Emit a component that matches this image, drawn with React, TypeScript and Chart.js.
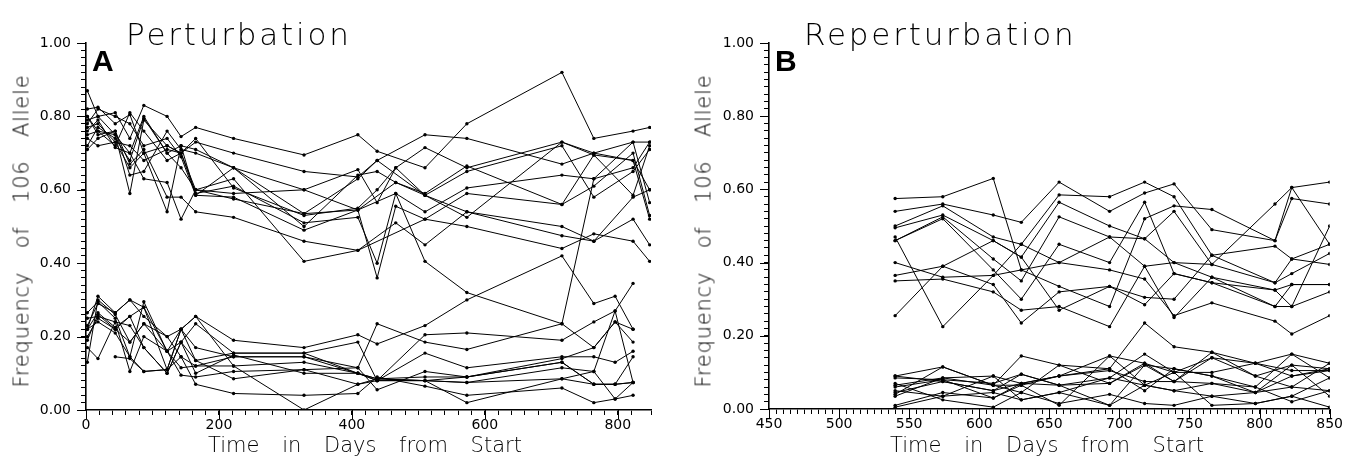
import React, { useEffect, useRef } from "react";
import { Chart, registerables } from "chart.js";
Chart.register(...registerables);

// ---------- Panel A (Perturbation) ----------
const timesA = [2, 18, 44, 66, 87, 122, 143, 165, 222, 328, 409, 438, 466, 510, 573, 716, 764, 796, 823, 848];

const aUp1 = [0.87, 0.80, 0.81, 0.74, 0.83, 0.80, 0.745, 0.77, 0.74, 0.695, 0.75, 0.705, null, 0.66, 0.78, 0.92, 0.74, null, 0.76, 0.77];
const aUp2 = [0.82, 0.825, 0.78, 0.805, 0.70, 0.72, 0.70, 0.73, 0.70, 0.65, 0.635, 0.68, null, 0.75, 0.74, 0.67, 0.70, null, 0.73, 0.73];
const aUp3 = [0.80, 0.76, 0.75, 0.59, 0.79, 0.72, 0.70, 0.60, 0.59, 0.60, 0.655, 0.565, 0.66, 0.715, 0.66, 0.73, 0.695, null, 0.68, 0.60];
const aUp4 = [0.78, 0.82, 0.80, 0.78, 0.72, 0.74, 0.69, 0.585, 0.66, 0.535, 0.545, null, 0.62, 0.585, 0.65, 0.72, 0.58, null, 0.65, 0.71];
const aUp5 = [0.75, 0.76, 0.72, 0.81, 0.76, 0.68, 0.70, 0.59, 0.61, 0.51, 0.525, 0.40, 0.59, 0.54, 0.605, 0.64, 0.63, null, 0.73, 0.565];
const aUp6 = [0.74, 0.72, 0.73, 0.66, 0.70, 0.54, 0.72, 0.585, 0.58, 0.49, 0.545, 0.36, 0.555, 0.52, 0.59, 0.56, 0.695, null, 0.585, 0.72];
const aUp7 = [0.71, 0.74, 0.76, 0.67, 0.71, 0.58, 0.58, 0.54, 0.525, 0.46, 0.435, null, 0.51, 0.45, 0.54, 0.50, 0.46, null, 0.52, 0.45];
const aUp8 = [0.79, 0.80, 0.75, 0.70, 0.63, 0.62, 0.52, 0.60, 0.63, 0.405, 0.435, null, null, 0.52, 0.50, 0.44, 0.48, null, 0.46, 0.405];
const aUp9 = [0.76, 0.79, 0.715, 0.70, 0.80, 0.70, 0.66, 0.60, 0.575, 0.535, 0.63, 0.68, null, 0.585, 0.525, 0.73, 0.70, null, 0.68, 0.52];
const aUp10 = [0.80, 0.75, 0.76, 0.64, 0.65, 0.76, 0.71, 0.70, 0.66, 0.60, 0.545, null, 0.59, 0.405, 0.32, 0.235, 0.63, null, 0.66, 0.73];
const aUp11 = [0.77, 0.78, 0.73, 0.72, 0.68, 0.71, 0.70, 0.74, 0.605, 0.53, 0.55, 0.60, 0.66, 0.585, 0.54, 0.475, 0.46, null, 0.58, 0.60];
const aUp12 = [0.72, 0.77, 0.74, 0.68, 0.795, 0.70, 0.72, 0.71, 0.66, 0.50, 0.64, 0.65, 0.62, 0.59, 0.665, 0.56, 0.61, null, 0.70, 0.53];

const aLow1 = [0.22, 0.31, 0.265, 0.30, 0.255, 0.20, 0.22, 0.255, 0.19, 0.17, 0.205, 0.18, null, 0.23, 0.30, 0.42, 0.29, 0.31, 0.22, null];
const aLow2 = [0.265, 0.295, 0.25, 0.145, 0.295, 0.16, 0.185, 0.235, 0.155, 0.155, 0.185, 0.08, null, 0.205, 0.21, 0.19, 0.24, 0.27, 0.345, null];
const aLow3 = [0.22, 0.265, 0.225, 0.255, 0.28, 0.11, 0.22, 0.17, 0.145, 0.145, 0.115, 0.235, null, 0.185, 0.165, 0.235, 0.17, 0.24, 0.185, null];
const aLow4 = [0.13, 0.30, 0.26, 0.185, 0.235, 0.20, 0.145, 0.12, 0.12, 0.13, 0.10, 0.08, null, 0.155, 0.115, 0.145, 0.145, 0.13, 0.16, null];
const aLow5 = [0.17, 0.14, 0.24, 0.105, 0.20, 0.16, 0.095, 0.09, 0.105, 0.11, 0.115, 0.055, null, 0.105, 0.09, 0.13, 0.07, 0.07, 0.145, null];
const aLow6 = [0.20, 0.25, 0.22, 0.255, 0.17, 0.10, 0.185, 0.135, 0.085, 0.11, 0.07, 0.08, null, 0.08, 0.075, 0.115, 0.105, 0.03, 0.075, null];
const aLow7 = [0.22, 0.24, 0.21, 0.145, 0.105, 0.11, 0.145, 0.07, 0.045, 0.04, 0.045, 0.09, null, 0.065, 0.04, 0.06, 0.02, 0.03, 0.04, null];
const aLow8 = [null, null, 0.145, 0.14, 0.105, 0.11, 0.22, 0.255, 0.12, 0.00, 0.07, 0.085, null, 0.08, 0.02, 0.085, 0.105, 0.27, 0.075, null];
const aLow9 = [0.23, 0.29, 0.265, 0.30, 0.28, 0.16, 0.115, 0.12, 0.145, 0.145, 0.10, 0.085, null, 0.09, 0.09, 0.13, 0.07, 0.07, 0.075, null];
const aLow10 = [0.19, 0.26, 0.22, 0.185, 0.235, 0.16, 0.22, 0.135, 0.155, 0.155, 0.10, 0.08, null, 0.08, 0.09, 0.14, 0.17, 0.24, 0.22, null];
const aLow11 = [0.25, 0.255, 0.24, 0.23, 0.17, 0.10, 0.185, 0.10, 0.15, 0.10, 0.10, 0.085, null, 0.08, 0.075, 0.085, 0.07, 0.07, 0.075, null];

// ---------- Panel B (Reperturbation) ----------
const timesB = [540, 574, 610, 630, 657, 693, 718, 739, 766, 797, 811, 823, 850];

const bUp1 = [0.575, 0.58, 0.63, 0.38, 0.335, 0.28, 0.52, 0.555, 0.545, null, 0.46, 0.605, 0.62];
const bUp2 = [0.54, 0.56, 0.53, 0.51, 0.62, 0.54, 0.59, 0.615, 0.49, null, 0.46, 0.575, 0.56];
const bUp3 = [0.50, 0.555, 0.47, 0.45, 0.585, 0.58, 0.62, 0.58, 0.42, null, 0.445, 0.41, 0.45];
const bUp4 = [0.495, 0.53, 0.46, 0.415, 0.565, 0.50, 0.465, 0.54, 0.395, null, 0.345, 0.37, 0.425];
const bUp5 = [0.46, 0.525, 0.41, 0.35, 0.525, 0.47, 0.39, 0.40, 0.36, null, 0.325, 0.34, 0.34];
const bUp6 = [0.46, 0.52, 0.38, 0.30, 0.45, 0.40, 0.565, 0.37, 0.345, null, 0.28, 0.28, 0.32];
const bUp7 = [0.40, 0.36, 0.365, 0.45, 0.40, 0.38, 0.355, 0.255, 0.29, null, 0.24, 0.205, 0.255];
const bUp8 = [0.365, 0.39, 0.34, 0.235, 0.32, 0.335, 0.305, 0.30, 0.42, null, 0.345, 0.41, 0.395];
const bUp9 = [0.35, 0.355, 0.32, 0.27, 0.28, 0.225, 0.39, 0.25, 0.36, null, 0.28, 0.34, 0.34];
const bUp10 = [0.255, 0.39, 0.46, 0.415, 0.27, 0.335, 0.285, 0.37, 0.345, null, 0.325, 0.28, 0.50];
const bUp11 = [0.47, 0.225, 0.365, 0.38, 0.40, 0.47, 0.465, 0.40, 0.395, null, 0.56, 0.605, 0.45];

const bLow1 = [0.09, 0.115, 0.065, 0.145, 0.12, 0.11, 0.235, 0.17, 0.155, 0.125, null, 0.15, 0.125];
const bLow2 = [0.065, 0.085, 0.09, 0.07, 0.09, 0.145, 0.125, 0.075, 0.14, 0.09, null, 0.12, 0.11];
const bLow3 = [0.045, 0.075, 0.05, 0.095, 0.065, 0.085, 0.15, 0.10, 0.10, 0.125, null, 0.09, 0.105];
const bLow4 = [0.035, 0.085, 0.065, 0.045, 0.12, 0.07, 0.12, 0.11, 0.09, 0.06, null, 0.15, 0.085];
const bLow5 = [0.01, 0.045, 0.03, 0.065, 0.09, 0.105, 0.075, 0.075, 0.155, 0.09, null, 0.06, 0.05];
const bLow6 = [0.05, 0.035, 0.09, 0.025, 0.045, 0.085, 0.065, 0.05, 0.07, 0.045, null, 0.12, 0.035];
const bLow7 = [0.07, 0.025, 0.005, 0.045, 0.015, 0.04, 0.015, 0.01, 0.035, 0.015, null, 0.035, 0.005];
const bLow8 = [0.085, 0.08, 0.03, 0.07, 0.065, 0.01, 0.12, 0.075, 0.07, 0.06, null, 0.02, 0.05];
const bLow9 = [0.04, 0.115, 0.065, 0.065, 0.01, 0.145, 0.065, 0.10, 0.01, 0.015, null, 0.035, 0.085];
const bLow10 = [0.09, 0.075, 0.05, 0.07, 0.09, 0.11, 0.05, 0.11, 0.09, 0.045, null, 0.09, 0.11];
const bLow11 = [0.005, 0.035, 0.045, 0.025, 0.045, 0.01, 0.065, 0.05, 0.035, 0.045, null, 0.06, 0.125];
const bLow12 = [0.06, 0.08, 0.07, 0.095, 0.065, 0.07, 0.125, 0.10, 0.14, 0.125, null, 0.105, 0.105];

const seriesA = [aUp1, aUp2, aUp3, aUp4, aUp5, aUp6, aUp7, aUp8, aUp9, aUp10, aUp11, aUp12,
  aLow1, aLow2, aLow3, aLow4, aLow5, aLow6, aLow7, aLow8, aLow9, aLow10, aLow11];
const seriesB = [bUp1, bUp2, bUp3, bUp4, bUp5, bUp6, bUp7, bUp8, bUp9, bUp10, bUp11,
  bLow1, bLow2, bLow3, bLow4, bLow5, bLow6, bLow7, bLow8, bLow9, bLow10, bLow11, bLow12];

const TICK_FONT = { family: "'DejaVu Sans', sans-serif", size: 14 };

// Longer marks for labelled (major) ticks
const majorTicks = {
  id: "majorTicks",
  afterDraw(chart: any) {
    const ctx = chart.ctx;
    ctx.save();
    ctx.strokeStyle = "#000";
    ctx.lineWidth = 1;
    const xs = chart.scales.x;
    const ys = chart.scales.y;
    xs.ticks.forEach((t: any, i: number) => {
      if (t.label === "" || t.label == null) return;
      const px = Math.round(xs.getPixelForTick(i)) + 0.5;
      ctx.beginPath();
      ctx.moveTo(px, xs.top);
      ctx.lineTo(px, xs.top + 9);
      ctx.stroke();
    });
    ys.ticks.forEach((t: any, i: number) => {
      if (t.label === "" || t.label == null) return;
      const py = Math.round(ys.getPixelForTick(i)) + 0.5;
      ctx.beginPath();
      ctx.moveTo(ys.right - 9, py);
      ctx.lineTo(ys.right, py);
      ctx.stroke();
    });
    ctx.restore();
  },
};

function makeConfig(
  times: number[],
  series: (number | null)[][],
  xMin: number,
  xMax: number,
  xStep: number,
  xLabelEvery: number,
  yWidth: number,
  xHeight: number,
  padRight: number
): any {
  const datasets = series.map((vals) => ({
    data: times.map((t, i) => ({ x: t, y: vals[i] })),
    borderColor: "#000",
    borderWidth: 1,
    pointRadius: 1.7,
    pointBackgroundColor: "#000",
    pointBorderWidth: 0,
    tension: 0,
    spanGaps: true,
    fill: false,
  }));
  return {
    type: "line",
    data: { datasets },
    plugins: [majorTicks],
    options: {
      animation: false,
      responsive: false,
      devicePixelRatio: 1,
      layout: { padding: { top: 43, right: padRight, left: 0, bottom: 0 } },
      plugins: { legend: { display: false }, tooltip: { enabled: false }, title: { display: false } },
      scales: {
        x: {
          type: "linear",
          min: xMin,
          max: xMax,
          grid: { display: true, drawOnChartArea: false, drawTicks: true, tickLength: 5, color: "#000", lineWidth: 1 },
          border: { display: true, color: "#000", width: 1.6 },
          ticks: {
            stepSize: xStep,
            autoSkip: false,
            maxRotation: 0,
            color: "#000",
            font: TICK_FONT,
            padding: 2,
            callback: (v: any) => {
              const n = Math.round(Number(v));
              return (n - xMin) % xLabelEvery === 0 ? String(n) : "";
            },
          },
          afterFit: (s: any) => {
            s.height = xHeight;
          },
        },
        y: {
          type: "linear",
          min: 0,
          max: 1,
          grid: { display: true, drawOnChartArea: false, drawTicks: true, tickLength: 5, color: "#000", lineWidth: 1 },
          border: { display: true, color: "#000", width: 1.6 },
          ticks: {
            stepSize: 0.02,
            autoSkip: false,
            color: "#000",
            font: TICK_FONT,
            padding: 10,
            callback: (v: any) => {
              const k = Math.round(Number(v) * 100);
              return k % 20 === 0 ? (k / 100).toFixed(2) : "";
            },
          },
          afterFit: (s: any) => {
            s.width = yWidth;
          },
        },
      },
    },
  };
}

function Panel(props: { left: number; width: number; config: any }) {
  const ref = useRef<HTMLCanvasElement | null>(null);
  useEffect(() => {
    if (!ref.current) return;
    const chart = new Chart(ref.current, props.config);
    return () => chart.destroy();
  }, []);
  return (
    <canvas
      ref={ref}
      width={props.width}
      height={458}
      style={{ position: "absolute", left: props.left, top: 0, width: props.width, height: 458 }}
    />
  );
}

const thin: React.CSSProperties = {
  position: "absolute",
  fontFamily: "'DejaVu Sans', sans-serif",
  fontWeight: 200,
  color: "#000",
  whiteSpace: "nowrap",
  lineHeight: 1,
};

const bold: React.CSSProperties = {
  position: "absolute",
  fontFamily: "'Liberation Sans', Arial, sans-serif",
  fontWeight: 700,
  fontSize: 30,
  lineHeight: 1,
  color: "#000",
};

export default function App() {
  const configA = makeConfig(timesA, seriesA, 0, 850, 20, 200, 86, 48, 21);
  const configB = makeConfig(timesB, seriesB, 450, 850, 5, 50, 91, 49, 15);
  return (
    <div style={{ position: "absolute", left: 0, top: 0, width: 1345, height: 458, background: "#fff", overflow: "hidden" }}>
      <Panel left={0} width={672} config={configA} />
      <Panel left={678} width={667} config={configB} />

      <div style={{ ...thin, left: 126, top: 19, fontSize: 31, letterSpacing: 2.8 }}>Perturbation</div>
      <div style={{ ...thin, left: 804, top: 19, fontSize: 31, letterSpacing: 2.8 }}>Reperturbation</div>

      <div style={{ ...bold, left: 92, top: 46 }}>A</div>
      <div style={{ ...bold, left: 775, top: 46 }}>B</div>

      <div style={{ ...thin, left: 365, top: 435, fontSize: 21, wordSpacing: 16, transform: "translateX(-50%)" }}>Time in Days from Start</div>
      <div style={{ ...thin, left: 1047, top: 435, fontSize: 21, wordSpacing: 16, transform: "translateX(-50%)" }}>Time in Days from Start</div>

      <div style={{ ...thin, left: 22, top: 231, fontSize: 21, wordSpacing: 16, letterSpacing: 0.8, transform: "translate(-50%, -50%) rotate(-90deg)" }}>Frequency of 106 Allele</div>
      <div style={{ ...thin, left: 704, top: 231, fontSize: 21, wordSpacing: 16, letterSpacing: 0.8, transform: "translate(-50%, -50%) rotate(-90deg)" }}>Frequency of 106 Allele</div>
    </div>
  );
}
